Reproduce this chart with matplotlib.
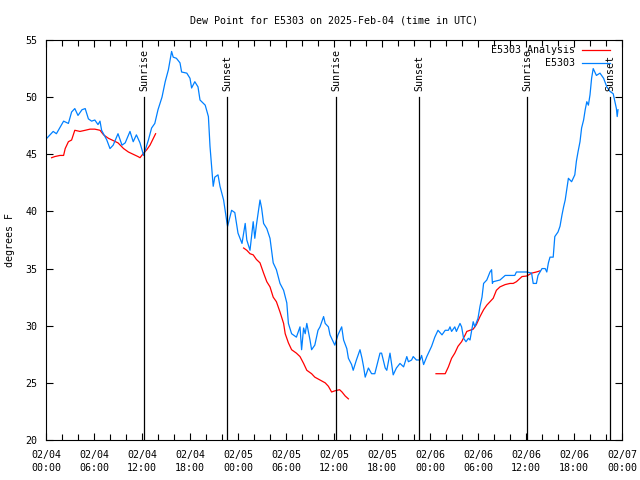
import matplotlib
matplotlib.use('Agg')
import matplotlib.pyplot as plt
import numpy as np

# hours since 2025-02-04 00:00 UTC
obs_hours = [0.1, 0.9, 1.3, 2.2, 2.8, 3.2, 3.6, 4.0, 4.5, 4.9, 5.3, 5.7, 6.1, 6.5, 6.75, 6.95,
             7.4, 7.6, 8.0, 8.4, 9.0, 9.5, 9.9, 10.5, 10.9, 11.3, 11.75, 12.2, 12.8, 13.2, 13.6,
             14.0, 14.5, 14.9, 15.3, 15.7, 15.9, 16.3, 16.75, 16.95, 17.6, 18.0, 18.2, 18.6, 19.0,
             19.25, 19.9, 20.3, 20.5, 20.7, 20.9, 21.1, 21.5, 21.75, 22.2, 22.6, 22.7, 23.2, 23.6,
             23.8, 24.0, 24.5, 24.9, 25.1, 25.5, 25.9, 26.1, 26.3, 26.75, 26.95, 27.2, 27.6, 28.0,
             28.4, 28.8, 29.25, 29.7, 30.1, 30.3, 30.7, 31.3, 31.75, 31.95, 32.2, 32.4, 32.6, 33.0,
             33.2, 33.6, 34.0, 34.25, 34.7, 34.9, 35.3, 35.5, 36.1, 36.5, 36.96, 37.2, 37.6, 37.8,
             38.2, 38.4, 38.8, 39.25, 39.5, 39.7, 39.9, 40.3, 40.7, 41.1, 41.75, 41.95, 42.4, 42.6,
             43.0, 43.4, 43.8, 44.25, 44.7, 45.1, 45.3, 45.7, 45.9, 46.3, 46.75, 46.95, 47.2, 47.6,
             48.2, 48.6, 49.0, 49.5, 49.9, 50.3, 50.5, 50.7, 51.1, 51.3, 51.75, 51.95, 52.2, 52.5,
             52.8, 53.0, 53.4, 53.6, 54.0, 54.25, 54.5, 54.7, 55.1, 55.5, 55.7, 55.8, 55.9, 56.75,
             57.4, 58.6, 58.8, 60.1, 60.7, 60.9, 61.3, 61.5, 62.0, 62.4, 62.6, 62.8, 63.0, 63.4,
             63.6, 64.0, 64.25, 64.5, 64.7, 64.9, 65.3, 65.7, 66.1, 66.3, 66.5, 66.75, 66.95, 67.2,
             67.4, 67.6, 67.8, 68.0, 68.2, 68.4, 68.8, 69.25, 69.7, 70.1, 70.5, 70.9, 71.3, 71.4, 71.5]
obs_dewpt = [46.4, 47.0, 46.8, 47.9, 47.7, 48.7, 49.0, 48.4, 48.9, 49.0, 48.1, 47.9, 48.0, 47.6, 47.9, 47.1,
             46.5, 46.25, 45.5, 45.8, 46.8, 45.8, 46.0, 47.0, 46.1, 46.7, 46.0, 44.9, 46.25, 47.3, 47.7,
             48.9, 50.0, 51.35, 52.4, 54.0, 53.5, 53.4, 53.0, 52.2, 52.1, 51.65, 50.8, 51.35, 50.9,
             49.75, 49.3, 48.3, 45.7, 43.9, 42.2, 43.0, 43.2, 42.2, 41.0, 39.1, 38.7, 40.1, 39.9,
             39.0, 38.1, 37.2, 38.95, 37.5, 36.6, 39.1, 37.65, 38.8, 41.0, 40.3, 38.95, 38.5, 37.65,
             35.5, 34.9, 33.7, 33.1, 32.0, 30.2, 29.3, 29.0, 29.9, 27.9, 29.8, 29.3, 30.2, 28.75,
             27.9, 28.3, 29.6, 29.9, 30.8, 30.2, 29.9, 29.2, 28.3, 29.2, 29.9, 28.75, 28.0, 27.15,
             26.6, 26.1, 27.0, 27.9, 27.15, 26.4, 25.5, 26.3, 25.8, 25.8, 27.6, 27.6, 26.3, 26.1,
             27.6, 25.7, 26.3, 26.7, 26.4, 27.3, 26.85, 27.0, 27.3, 27.0, 27.0, 27.4, 26.6, 27.3,
             28.2, 29.0, 29.6, 29.2, 29.6, 29.6, 29.9, 29.5, 29.9, 29.5, 30.2, 29.9, 28.9, 28.6,
             28.9, 28.75, 30.35, 29.9, 30.65, 31.7, 32.5, 33.7, 34.0, 34.7, 34.9, 33.7, 33.85, 34.0,
             34.4, 34.4, 34.7, 34.7, 34.6, 33.7, 33.7, 34.4, 35.0, 35.0, 34.7, 35.5, 36.0, 36.0,
             37.8, 38.2, 38.7, 39.7, 40.4, 41.0, 42.9, 42.6, 43.2, 44.4, 45.2, 46.1, 47.3, 48.0,
             48.9, 49.6, 49.3, 50.2, 51.65, 52.5, 51.9, 52.1, 51.65, 50.9, 50.5, 50.3, 49.0, 48.3, 48.9]

# analysis series, three separate runs
ana_hours_1 = [0.7, 1.1, 1.75, 2.2, 2.4, 2.8, 3.2, 3.6, 4.25, 4.9, 5.5, 6.1, 6.75, 7.2, 7.8, 8.4,
               9.0, 9.7, 10.3, 10.9, 11.5, 11.75, 12.2, 12.6, 13.0, 13.7]
ana_dewpt_1 = [44.7, 44.8, 44.9, 44.9, 45.5, 46.1, 46.25, 47.1, 47.0, 47.1, 47.2, 47.2, 47.1, 46.7, 46.4, 46.2,
               46.0, 45.5, 45.2, 45.0, 44.8, 44.7, 45.1, 45.4, 45.8, 46.8]
ana_hours_2 = [24.7, 25.1, 25.5, 25.9, 26.3, 26.75, 27.2, 27.6, 28.0, 28.4, 28.8, 29.25, 29.7, 29.9,
               30.3, 30.7, 31.3, 31.75, 32.2, 32.6, 33.2, 33.6, 34.25, 34.9, 35.3, 35.7, 36.1, 36.7,
               37.0, 37.4, 37.8]
ana_dewpt_2 = [36.8, 36.6, 36.3, 36.2, 35.8, 35.5, 34.6, 33.85, 33.4, 32.5, 32.1, 31.2, 30.2, 29.3,
               28.5, 27.9, 27.6, 27.3, 26.7, 26.1, 25.8, 25.5, 25.25, 25.0, 24.7, 24.2, 24.3, 24.4,
               24.2, 23.85, 23.6]
ana_hours_3 = [48.75, 49.9, 50.3, 50.7, 51.1, 51.5, 51.95, 52.4, 52.6, 53.0, 53.4, 53.8, 54.25, 54.7,
               55.1, 55.5, 55.9, 56.3, 56.75, 57.4, 58.0, 58.4, 58.8, 59.5, 60.1, 60.7, 61.3, 61.75]
ana_dewpt_3 = [25.8, 25.8, 26.4, 27.15, 27.6, 28.2, 28.6, 29.2, 29.5, 29.6, 29.7, 30.1, 30.8, 31.4,
               31.8, 32.1, 32.4, 33.1, 33.4, 33.6, 33.7, 33.7, 33.85, 34.3, 34.35, 34.6, 34.7, 34.8]

sun_hours = [12.29, 22.67, 36.3, 46.67, 60.17, 70.54]
sun_labels = ['Sunrise', 'Sunset', 'Sunrise', 'Sunset', 'Sunrise', 'Sunset']

tick_hours = list(range(0, 73, 6))
tick_labels = ['02/04\n00:00', '02/04\n06:00', '02/04\n12:00', '02/04\n18:00',
               '02/05\n00:00', '02/05\n06:00', '02/05\n12:00', '02/05\n18:00',
               '02/06\n00:00', '02/06\n06:00', '02/06\n12:00', '02/06\n18:00', '02/07\n00:00']

FONT = 'DejaVu Sans Mono'
FS = 7.2
plt.rcParams['font.family'] = FONT
plt.rcParams['font.size'] = FS

fig = plt.figure(figsize=(6.4, 4.8), dpi=100)
ax = fig.add_axes([46 / 640, 40 / 480, 576 / 640, 400 / 480])

red = '#ff0000'
blue = '#0080ff'
ax.plot(ana_hours_1, ana_dewpt_1, color=red, lw=0.9, label='E5303 Analysis')
ax.plot(ana_hours_2, ana_dewpt_2, color=red, lw=0.9)
ax.plot(ana_hours_3, ana_dewpt_3, color=red, lw=0.9)
ax.plot(obs_hours, obs_dewpt, color=blue, lw=0.9, label='E5303')

for h, lab in zip(sun_hours, sun_labels):
    ax.plot([h, h], [20, 50], color='black', lw=0.9)
    ax.text(h, 50.5, lab, rotation=90, ha='center', va='bottom', fontsize=FS)

ax.set_xlim(0, 72)
ax.set_ylim(20, 55)
ax.set_xticks(tick_hours)
ax.set_xticklabels(tick_labels, linespacing=1.45)
ax.set_xticks(range(0, 73, 2), minor=True)
ax.set_yticks(range(20, 56, 5))
ax.tick_params(which='both', direction='in', top=True, right=True, width=0.8)
ax.tick_params(axis='x', which='both', pad=7)
ax.tick_params(axis='y', which='both', pad=6)
ax.tick_params(which='major', length=5)
ax.tick_params(which='minor', length=4)
for s in ax.spines.values():
    s.set_linewidth(0.8)

ax.set_title('Dew Point for E5303 on 2025-Feb-04 (time in UTC)', fontsize=FS, pad=12)
ax.set_ylabel('degrees F')
ax.yaxis.set_label_coords(-31 / 576, 0.5)

ax.legend(loc='upper right', bbox_to_anchor=(564 / 576, 0.987), frameon=False,
          markerfirst=False, handlelength=2.8, handletextpad=0.7, labelspacing=0.3,
          borderpad=0, borderaxespad=0, fontsize=FS)

fig.savefig('out.png', dpi=100)
